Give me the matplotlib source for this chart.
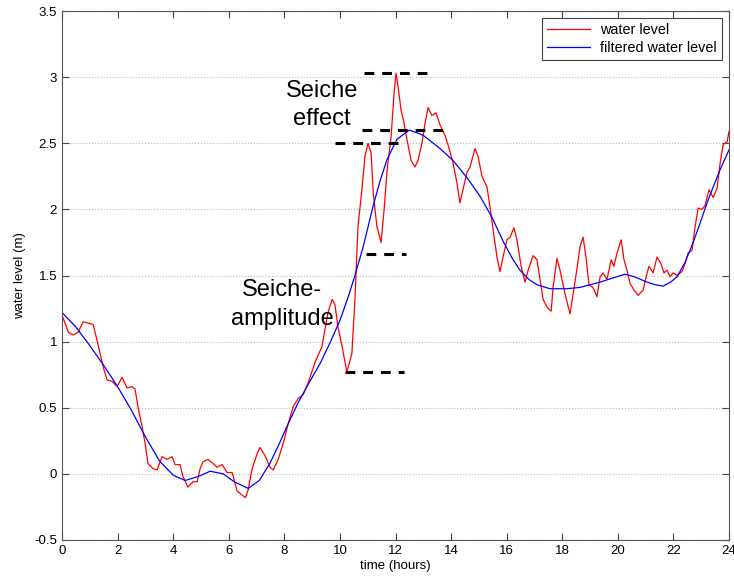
import numpy as np
import matplotlib.pyplot as plt

plt.rcParams['font.family'] = ['Liberation Sans', 'DejaVu Sans']

# water level (hours, m)
t_raw = [0.0, 0.23, 0.4, 0.58, 0.76, 0.94, 1.12, 1.26, 1.37, 1.48, 1.62, 1.8, 1.98,
         2.16, 2.34, 2.52, 2.63, 2.73, 2.88, 2.99, 3.09, 3.27, 3.42, 3.6, 3.78, 3.96,
         4.07, 4.25, 4.35, 4.53, 4.71, 4.86, 4.97, 5.07, 5.25, 5.43, 5.58, 5.76, 5.94,
         6.12, 6.3, 6.6, 6.7, 6.83, 7.0, 7.12, 7.3, 7.48, 7.6, 7.78, 7.96, 8.14, 8.32,
         8.5, 8.68, 8.86, 9.1, 9.2, 9.35, 9.46, 9.57, 9.72, 9.82, 9.93, 10.08, 10.25,
         10.43, 10.54, 10.65, 10.8, 10.9, 11.01, 11.12, 11.2, 11.33, 11.48, 11.59, 11.7,
         11.84, 11.95, 12.02, 12.09, 12.2, 12.3, 12.41, 12.56, 12.7, 12.81, 12.95, 13.06,
         13.17, 13.31, 13.46, 13.6, 13.78, 13.93, 14.07, 14.21, 14.32, 14.43, 14.57,
         14.68, 14.86, 14.97, 15.11, 15.29, 15.4, 15.51, 15.65, 15.76, 15.87, 16.01,
         16.12, 16.26, 16.37, 16.52, 16.66, 16.77, 16.95, 17.09, 17.2, 17.31, 17.45,
         17.6, 17.67, 17.81, 17.92, 18.06, 18.17, 18.28, 18.39, 18.53, 18.64, 18.75,
         18.86, 18.96, 19.1, 19.25, 19.36, 19.47, 19.61, 19.76, 19.86, 19.97, 20.12,
         20.22, 20.33, 20.44, 20.58, 20.73, 20.91, 21.02, 21.12, 21.27, 21.41, 21.55,
         21.66, 21.77, 21.88, 21.99, 22.13, 22.31, 22.42, 22.53, 22.67, 22.78, 22.89,
         23.03, 23.14, 23.28, 23.43, 23.57, 23.68, 23.79, 23.93, 24.0]
level_raw = [1.2, 1.07, 1.05, 1.07, 1.15, 1.14, 1.13, 1.01, 0.91, 0.81, 0.71, 0.7, 0.66,
             0.73, 0.65, 0.66, 0.64, 0.51, 0.36, 0.23, 0.08, 0.04, 0.03, 0.13, 0.11, 0.13,
             0.07, 0.07, -0.02, -0.1, -0.06, -0.06, 0.04, 0.09, 0.11, 0.08, 0.05, 0.07, 0.01,
             0.01, -0.13, -0.18, -0.12, 0.03, 0.14, 0.2, 0.14, 0.05, 0.03, 0.11, 0.23, 0.38,
             0.51, 0.57, 0.6, 0.69, 0.84, 0.89, 0.96, 1.09, 1.22, 1.32, 1.28, 1.11, 0.96, 0.77,
             0.91, 1.32, 1.87, 2.17, 2.4, 2.5, 2.43, 2.12, 1.87, 1.75, 2.0, 2.3,
             2.55, 2.88, 3.03, 2.93, 2.75, 2.66, 2.53, 2.37, 2.32, 2.37, 2.5, 2.65,
             2.77, 2.71, 2.73, 2.64, 2.56, 2.46, 2.35, 2.2, 2.05, 2.15, 2.28,
             2.32, 2.46, 2.4, 2.25, 2.17, 2.02, 1.85, 1.64, 1.53, 1.64, 1.77,
             1.79, 1.86, 1.77, 1.57, 1.45, 1.54, 1.65, 1.62, 1.47, 1.32, 1.26,
             1.23, 1.41, 1.63, 1.54, 1.4, 1.3, 1.21, 1.36, 1.55, 1.72, 1.79,
             1.63, 1.43, 1.41, 1.34, 1.49, 1.52, 1.47, 1.62, 1.57, 1.67, 1.77,
             1.62, 1.54, 1.44, 1.39, 1.35, 1.39, 1.49, 1.57, 1.52, 1.64, 1.59,
             1.52, 1.54, 1.49, 1.52, 1.5, 1.53, 1.59, 1.67, 1.69, 1.87, 2.01,
             2.0, 2.03, 2.15, 2.09, 2.16, 2.35, 2.49, 2.51, 2.59]

# filtered water level
t_filt = [0.0, 0.5, 1.0, 1.5, 2.0, 2.5, 3.0, 3.5, 4.0, 4.43, 4.9, 5.33, 5.8, 6.2, 6.7,
          7.1, 7.48, 7.8, 8.14, 8.5, 8.92, 9.3, 9.64, 10.0, 10.3, 10.54, 10.84, 11.2,
          11.45, 11.7, 12.05, 12.5, 13.0, 13.6, 14.07, 14.57, 15.04, 15.47, 15.87, 16.2,
          16.48, 16.8, 17.09, 17.56, 18.17, 18.64, 19.0, 19.36, 19.8, 20.26, 20.6, 21.05,
          21.35, 21.63, 21.9, 22.13, 22.42, 22.71, 23.0, 23.21, 23.45, 23.68, 24.0]
level_filt = [1.22, 1.11, 0.97, 0.82, 0.66, 0.48, 0.28, 0.1, -0.01, -0.05, -0.02, 0.02,
              0.0, -0.06, -0.11, -0.05, 0.08, 0.22, 0.38, 0.54, 0.7, 0.84, 0.99, 1.16,
              1.34, 1.5, 1.72, 2.03, 2.22, 2.38, 2.53, 2.6, 2.56, 2.46, 2.37, 2.24, 2.1,
              1.94, 1.76, 1.63, 1.54, 1.47, 1.43, 1.4, 1.4, 1.41, 1.43, 1.45, 1.48, 1.51,
              1.49, 1.45, 1.43, 1.42, 1.45, 1.49, 1.6, 1.75, 1.92, 2.05, 2.18, 2.3, 2.45]

# annotation dashes: (x start, x end, level)
marks_x0 = [10.87, 10.8, 9.82, 10.94, 10.18]
marks_x1 = [13.31, 13.85, 12.23, 12.38, 12.31]
marks_y = [3.03, 2.6, 2.5, 1.66, 0.77]

fig = plt.figure(figsize=(7.34, 5.8), dpi=100)
ax = fig.add_axes([0.0845, 0.069, 0.9087, 0.912])

ax.plot(t_raw, level_raw, color='#ff0000', lw=0.9, label='water level')
ax.plot(t_filt, level_filt, color='#0000ff', lw=0.9, label='filtered water level')

for x0, x1, y in zip(marks_x0, marks_x1, marks_y):
    ax.plot([x0, x1], [y, y], color='black', lw=2.2, dashes=(3.2, 2.6))

ax.text(9.34, 2.79, 'Seiche\neffect', ha='center', va='center', fontsize=17,
        linespacing=1.4)
ax.text(7.92, 1.28, 'Seiche-\namplitude', ha='center', va='center', fontsize=17,
        linespacing=1.4)

ax.set_xlim(0, 24)
ax.set_ylim(-0.5, 3.5)
ax.set_xticks(np.arange(0, 25, 2))
ax.set_yticks(np.arange(-0.5, 3.6, 0.5))
ax.set_yticklabels(['-0.5', '0', '0.5', '1', '1.5', '2', '2.5', '3', '3.5'])
ax.tick_params(direction='in', top=True, right=True, labelsize=9.5, length=5,
               color='#444444')
ax.yaxis.grid(True, linestyle=':', color='#bbbbbb', lw=0.8)
for s in ax.spines.values():
    s.set_color('#555555')

ax.set_xlabel('time (hours)', fontsize=9.5, labelpad=2)
ax.set_ylabel('water level (m)', fontsize=9.5, labelpad=6)

leg = ax.legend(loc='upper right', fontsize=10.4, fancybox=False, framealpha=1,
                edgecolor='#444444', handlelength=3, handletextpad=0.7,
                borderpad=0.35, labelspacing=0.25, borderaxespad=0.5)
leg.get_frame().set_linewidth(0.8)

fig.savefig('out.png', dpi=100)
